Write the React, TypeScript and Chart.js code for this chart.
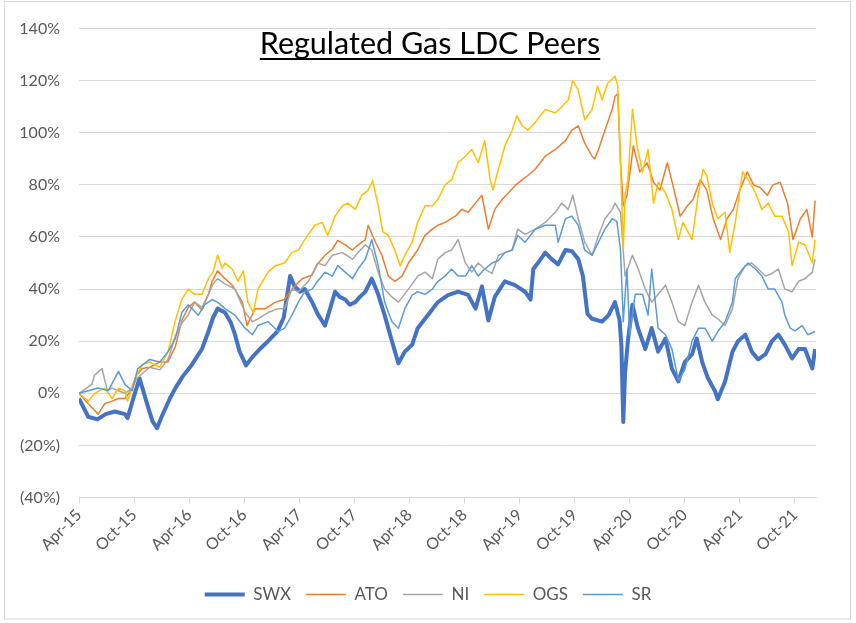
import React, { useEffect, useRef } from "react";
import { Chart, registerables } from "chart.js";

Chart.register(...registerables);

// x = months since 1 Apr 2015, y = cumulative total return in %
const tickLabels = ["Apr-15", "Oct-15", "Apr-16", "Oct-16", "Apr-17", "Oct-17", "Apr-18", "Oct-18", "Apr-19", "Oct-19", "Apr-20", "Oct-20", "Apr-21", "Oct-21"];

const swx: [number, number][] = [
  [0, -2], [1, -9], [2, -10], [2.9, -8], [3.9, -7], [5, -8], [5.3, -9.5], [6, -1], [6.6, 5.7], [7.5, -5], [8, -10.7], [8.5, -13.4], [9, -9], [9.9, -2], [10.5, 2], [11.3, 6.5], [12.3, 11], [13.4, 17], [14.1, 23.7], [14.6, 29], [15.1, 32.5], [15.9, 31], [16.5, 27.5], [17, 22.5], [17.5, 16], [18.2, 10.7], [18.9, 14], [19.7, 17], [20.6, 20], [21.6, 23.7], [22.3, 29], [23, 45], [23.5, 41], [24.1, 39], [24.6, 40], [25.4, 35], [26, 30.5], [26.8, 26], [27.4, 33], [27.9, 39], [28.4, 37], [29, 36], [29.5, 34], [30.1, 35], [30.6, 37], [31.2, 39], [31.9, 44], [32.6, 38], [33.3, 30], [34.1, 20], [34.8, 11.5], [35.5, 16], [36.3, 18.7], [36.9, 25], [38, 30], [39.1, 35], [40.2, 37.7], [41.3, 39], [42.4, 37.8], [43.2, 32.5], [43.9, 41], [44.6, 28], [45.3, 37], [46.4, 43], [47.5, 41.5], [48.6, 39], [49.2, 36], [49.5, 47.7], [50, 50], [50.8, 54], [51.5, 51.5], [52.2, 49.5], [53, 55], [53.7, 54.5], [54.4, 51.5], [54.9, 45], [55.4, 30.5], [55.9, 28.6], [57, 27.5], [57.7, 30], [58.4, 35], [58.9, 28], [59.1, 18], [59.3, -11], [59.5, 8], [59.8, 20], [60.3, 34], [60.9, 25], [61.7, 17], [62.4, 25], [63.1, 16], [63.9, 21], [64.6, 9.5], [65.3, 4.6], [66, 12], [66.8, 15], [67.3, 21], [67.9, 12], [68.5, 6], [69.3, 0.8], [69.6, -2.3], [70.4, 4.6], [71.2, 16], [71.8, 20], [72.6, 22.5], [73.3, 16], [74, 13], [74.8, 15], [75.5, 20], [76.2, 22.5], [76.9, 18.7], [77.7, 13.4], [78.4, 17], [79.1, 17], [79.9, 9.5], [80.2, 17],
];

const ato: [number, number][] = [
  [0, 0], [1, -4], [2.1, -8], [2.8, -4], [3.6, -3], [4.3, -2], [5, -2], [5.6, 0.8], [6.3, 7], [6.9, 9.5], [7.7, 10], [8.8, 12], [9.7, 12], [10.5, 18], [11.2, 28], [11.9, 33], [12.6, 35], [13.4, 32], [14.1, 38], [14.5, 43], [15.1, 47], [15.9, 44], [16.7, 41.5], [17.8, 35], [18.3, 26], [19.2, 32.5], [20.3, 32.5], [21.4, 35], [22.4, 36], [23.2, 40], [24.3, 44], [25.4, 45.4], [26, 49.6], [26.8, 53], [27.6, 55.3], [28.2, 58.7], [29, 57], [29.8, 55], [30.4, 57], [31.2, 59], [31.5, 64.5], [32.3, 58], [33, 53], [33.7, 45], [34.4, 43], [35.2, 45], [35.9, 50], [36.9, 55], [37.7, 60.6], [38.5, 63], [39.1, 64.5], [39.9, 65.6], [41, 68], [41.7, 70.6], [42.4, 69.5], [43.2, 73], [43.9, 76], [44.6, 63], [45.3, 70.6], [46.1, 74.4], [46.8, 77], [47.5, 79.7], [48.3, 82], [48.9, 83.6], [49.7, 86], [50.8, 91], [51.9, 93.6], [53, 97], [53.7, 101], [54.4, 102.7], [55.1, 96], [55.9, 91], [56.2, 90], [56.6, 93.6], [57.3, 101], [58.1, 109], [58.4, 114], [58.7, 115], [59, 88.5], [59.3, 72], [59.7, 76], [60.4, 95], [61.1, 85], [61.9, 88.5], [62.6, 81], [63.3, 78], [64.1, 88.5], [64.7, 80], [65.5, 68], [66.3, 72], [66.9, 74.4], [67.7, 82], [68.4, 78], [69.1, 67], [69.9, 59], [70.6, 67], [71.3, 70.6], [72, 78], [72.8, 85], [73.5, 80], [74.2, 79], [75, 76], [75.6, 80], [76.4, 81], [77.2, 73], [77.8, 59], [78.6, 67], [79.3, 70.6], [79.9, 60], [80.2, 74],
];

const ni: [number, number][] = [
  [0, 0], [1.4, 3.4], [1.7, 7], [2.5, 9.5], [3.1, 1], [3.6, 2], [4.3, 1], [5, 0], [5.8, 2], [6.3, 5.7], [7.7, 10], [8.8, 9], [9.7, 13], [10.5, 22], [11.2, 27], [11.9, 30], [12.6, 35], [13.4, 33], [14.1, 38], [14.6, 42], [15.1, 44], [15.9, 42], [17, 40], [18.1, 31], [18.9, 27.5], [19.5, 28.6], [20.6, 31], [21.7, 32.5], [22.4, 32.5], [23.2, 40], [23.9, 39], [25, 43], [26, 50], [26.8, 49], [27.6, 53], [28.7, 54], [29.8, 51.5], [30.4, 54], [31.2, 57], [31.9, 55], [32.6, 46.5], [33.3, 40], [34.1, 37], [34.8, 35], [35.9, 40], [36.9, 45], [37.7, 46.5], [38.5, 44], [39.1, 51.5], [39.9, 54], [40.6, 55], [41.3, 59], [42.1, 50], [42.8, 46.5], [43.5, 50], [44.2, 47.7], [45, 46], [45.7, 53], [46.4, 54], [47.2, 55], [47.8, 63], [48.6, 61], [49.7, 63], [50.8, 65.6], [51.9, 69.5], [52.6, 73], [53.3, 70.6], [53.8, 76], [54.4, 67], [55.1, 58], [55.9, 53], [56.6, 60.6], [57.3, 67], [58.1, 70.6], [58.4, 73], [59, 69.5], [59.5, 45], [60.3, 53], [60.9, 48], [61.7, 40], [62.4, 35], [63.1, 38], [63.9, 41.5], [64.6, 35], [65.3, 27.5], [66, 26], [66.8, 35], [67.5, 41.5], [68.2, 35], [69, 30], [69.6, 28.6], [70.4, 26], [71.2, 32.5], [71.8, 44], [72.6, 49], [73.3, 50], [74, 47.7], [74.8, 45], [75.5, 46], [76.2, 47.7], [76.9, 40], [77.7, 39], [78.4, 43], [79.1, 44], [79.9, 46.5], [80.2, 51.5],
];

const ogs: [number, number][] = [
  [0, 0], [1, -3], [1.7, 0], [2.8, 2], [3.6, -2], [4.3, 2], [5, 1], [5.3, -3], [6.1, 5.7], [6.9, 11], [7.7, 12], [8.8, 10], [9.7, 16], [10.5, 28], [11.2, 36], [11.9, 40], [12.6, 38], [13.4, 38], [14.1, 44], [14.6, 46.5], [15.1, 53], [15.6, 48], [15.9, 50], [16.7, 47.7], [17.3, 43], [17.9, 47], [18.4, 35], [19, 31], [19.5, 40], [20.6, 46.5], [21.4, 49], [22.4, 50], [23.2, 54], [23.9, 55], [24.6, 59], [25.7, 64.5], [26.5, 65.6], [27.1, 60.6], [27.9, 68], [28.7, 72], [29.3, 73], [30.1, 70.6], [30.8, 76], [31.5, 78], [32, 81.6], [32.6, 72], [33.1, 62], [33.7, 60.6], [34.4, 55], [35, 49], [35.5, 53], [36.3, 58], [36.9, 65.6], [37.7, 72], [38.5, 72], [39.1, 74.4], [39.9, 80], [40.6, 82], [41.3, 88.5], [42.1, 91], [42.8, 93.6], [43.5, 88.5], [44.2, 97], [44.8, 82], [45.1, 78], [45.7, 86], [46.4, 95], [47.2, 101], [47.7, 106.5], [48.3, 102.7], [48.9, 101], [49.7, 104], [50.8, 109], [51.9, 107.6], [52.6, 110], [53.3, 112.6], [53.8, 120], [54.4, 116.4], [55.1, 105], [55.9, 109], [56.5, 118], [57, 112.6], [57.6, 119], [58.4, 121.7], [58.7, 118], [59, 88.5], [59.3, 55], [59.5, 76], [59.8, 82], [60.3, 109], [60.8, 95], [61.4, 85], [62, 93.6], [62.6, 73], [63.1, 81], [63.9, 77], [64.6, 70.6], [65.3, 59], [65.8, 65.6], [66.8, 59], [67.5, 77], [68, 86], [68.4, 83.6], [69, 73], [69.6, 67], [70.4, 69.5], [70.9, 54], [71.5, 65.6], [72.3, 85], [72.9, 82], [73.7, 77], [74.4, 70.6], [75.1, 73], [75.8, 68], [76.6, 68], [77.3, 62], [77.7, 49], [78.4, 58], [79.1, 57], [79.9, 50], [80.2, 59],
];

const sr: [number, number][] = [
  [0, 0], [1, 1], [2.1, 2], [3.2, 1], [4.3, 8.4], [5, 3.4], [5.8, 1], [6.4, 9.5], [7.7, 13], [8.8, 12], [9.7, 16], [10.5, 21], [11.2, 31], [11.9, 34], [13, 30], [13.7, 34], [14.5, 36], [15.1, 35], [15.9, 32.5], [17, 30], [18.1, 25], [18.9, 22.5], [19.5, 26], [20.6, 27.5], [21.7, 23.7], [22.4, 25], [23.2, 30], [23.9, 35], [24.6, 39], [25.4, 40], [26, 43], [26.8, 46.5], [27.6, 45], [28.2, 49], [29, 46.5], [29.8, 44], [30.4, 47.7], [31.2, 51.5], [31.9, 59], [32.6, 49], [33.3, 35], [34.1, 27.5], [34.8, 25], [35.5, 32.5], [36.3, 37.7], [36.9, 39], [37.7, 38], [38.5, 40], [39.1, 43], [39.9, 45], [40.6, 47.7], [41.3, 45], [42.1, 45], [42.8, 49], [43.5, 45], [44.2, 47.7], [45, 50], [45.7, 51], [46.4, 54], [47.2, 55], [47.8, 60.6], [48.6, 58], [49.7, 63], [50.8, 64.5], [51.9, 64.5], [52.2, 58], [53, 67], [53.7, 68], [54.4, 64.5], [55.1, 55], [55.9, 53], [56.6, 58], [57.3, 63], [58.1, 67], [58.6, 66], [59, 55], [59.3, 27.5], [59.7, 47.7], [60, 22.5], [60.6, 38], [61.4, 38], [62, 30], [62.4, 47.7], [63.1, 25], [63.9, 22.5], [64.6, 17], [65.3, 5], [66, 9], [66.8, 20], [67.5, 25], [68.2, 25], [69, 20], [69.6, 23.7], [70.4, 27.5], [71.2, 35], [71.5, 44], [72.3, 47.7], [72.9, 50], [73.7, 47.7], [74.4, 45], [75.1, 40], [75.8, 40], [76.6, 35], [76.9, 30], [77.5, 25], [78, 24], [78.8, 26], [79.4, 22.5], [80.2, 23.7],
];

const seriesNames = ["SWX", "ATO", "NI", "OGS", "SR"];
const seriesData = [swx, ato, ni, ogs, sr];
const seriesColors = ["#4472C4", "#ED7D31", "#A5A5A5", "#FFC000", "#5B9BD5"];
const seriesWidths = [4, 1.5, 1.5, 1.5, 1.5];

const titleText = "Regulated Gas LDC Peers";
const FONT = "Lato, 'Open Sans', 'DejaVu Sans', sans-serif";

const framePlugin = {
  id: "frame",
  beforeDraw(chart: any) {
    const { ctx, width, height } = chart;
    ctx.save();
    ctx.fillStyle = "#ffffff";
    ctx.fillRect(0, 0, width, height);
    ctx.strokeStyle = "#d9d9d9";
    ctx.lineWidth = 1;
    ctx.strokeRect(4.5, 1.5, 846, 617.5);
    ctx.restore();
  },
};

const titlePlugin = {
  id: "underlinedTitle",
  afterDraw(chart: any) {
    const { ctx } = chart;
    ctx.save();
    ctx.font = `30.5px ${FONT}`;
    ctx.fillStyle = "#000000";
    ctx.textAlign = "center";
    ctx.textBaseline = "alphabetic";
    const cx = 430;
    const base = 54;
    ctx.fillText(titleText, cx, base);
    const w = ctx.measureText(titleText).width;
    ctx.fillRect(cx - w / 2, base + 4, w, 2);
    ctx.restore();
  },
};

export default function App() {
  const ref = useRef<HTMLCanvasElement | null>(null);

  useEffect(() => {
    document.body.style.margin = "0";
    const canvas = ref.current;
    if (!canvas) return;
    const chart = new Chart(canvas, {
      type: "line",
      data: {
        datasets: seriesNames.map((name, i) => ({
          label: name,
          data: seriesData[i].map(([x, y]) => ({ x, y })),
          borderColor: seriesColors[i],
          backgroundColor: seriesColors[i],
          borderWidth: seriesWidths[i],
          pointRadius: 0,
          tension: 0,
          borderJoinStyle: "round" as const,
          order: seriesNames.length - i,
        })),
      },
      options: {
        responsive: false,
        animation: false,
        events: [],
        layout: { padding: { left: 0, right: 0, top: 22, bottom: 10 } },
        plugins: {
          tooltip: { enabled: false },
          legend: {
            position: "bottom",
            labels: {
              usePointStyle: true,
              pointStyle: "line",
              pointStyleWidth: 40,
              padding: 15,
              color: "#595959",
              font: { family: FONT, size: 17 },
              sort: (a: any, b: any) => a.datasetIndex - b.datasetIndex,
            },
          },
        },
        scales: {
          x: {
            type: "linear",
            min: 0,
            max: 80.3,
            afterFit: (s: any) => {
              s.height = 73.5;
              s.paddingLeft = 0;
              s.paddingRight = 0;
            },
            grid: { drawOnChartArea: false, drawTicks: true, tickLength: 6, color: "#d9d9d9" },
            border: { display: true, color: "#d9d9d9" },
            ticks: {
              stepSize: 6,
              includeBounds: false,
              autoSkip: false,
              minRotation: 45,
              maxRotation: 45,
              padding: 2,
              color: "#595959",
              font: { family: FONT, size: 16 },
              callback: (v: any) => {
                const idx = Math.round(Number(v) / 6);
                return Math.abs(Number(v) - idx * 6) < 1e-6 && tickLabels[idx] ? tickLabels[idx] : "";
              },
            },
          },
          y: {
            min: -40,
            max: 140,
            afterFit: (s: any) => {
              s.width = 79;
            },
            grid: { color: "#d9d9d9", drawTicks: false },
            border: { display: false },
            ticks: {
              stepSize: 20,
              padding: 19,
              color: "#595959",
              font: { family: FONT, size: 16 },
              callback: (v: any) => (Number(v) < 0 ? `(${-Number(v)}%)` : `${v}%`),
            },
          },
          spacer: {
            position: "right",
            display: true,
            grid: { display: false },
            border: { display: false },
            ticks: { display: false },
            afterFit: (s: any) => {
              s.width = 40;
            },
          },
        },
      },
      plugins: [framePlugin, titlePlugin],
    });
    return () => chart.destroy();
  }, []);

  return <canvas ref={ref} width={856} height={623} style={{ display: "block" }} />;
}
